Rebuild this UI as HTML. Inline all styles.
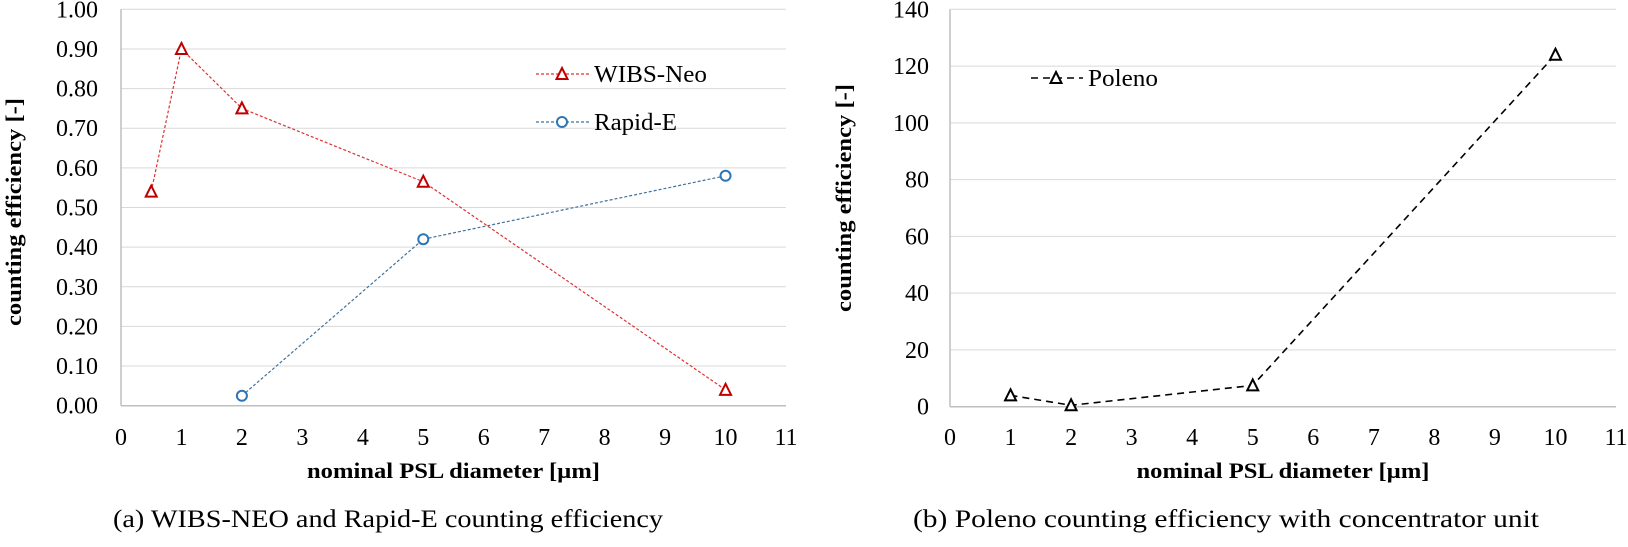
<!DOCTYPE html>
<html><head><meta charset="utf-8"><style>
html,body{margin:0;padding:0;background:#fff;}
svg text{font-family:"Liberation Serif",serif;fill:#000;}
</style></head><body>
<svg id="root" width="1628" height="542" viewBox="0 0 1628 542" xmlns="http://www.w3.org/2000/svg">
<g id="left"></g>
<g id="right"></g>
<text x="113" y="527" font-size="25" textLength="550" lengthAdjust="spacingAndGlyphs">(a) WIBS-NEO and Rapid-E counting efficiency</text>
<text x="913" y="527" font-size="25" textLength="626" lengthAdjust="spacingAndGlyphs">(b) Poleno counting efficiency with concentrator unit</text>
</svg>
<script>
const xTicks = [0,1,2,3,4,5,6,7,8,9,10,11];
const yTicksA = [0,0.1,0.2,0.3,0.4,0.5,0.6,0.7,0.8,0.9,1.0];
const yTicksB = [0,20,40,60,80,100,120,140];
const wibsX = [0.5,1,2,5,10];
const wibsY = [0.54,0.90,0.75,0.565,0.04];
const rapidX = [2,5,10];
const rapidY = [0.025,0.42,0.58];
const polenoX = [1,2,5,10];
const polenoY = [4,0.5,7.5,124];

const NS="http://www.w3.org/2000/svg";
function mk(parent,tag,attrs,text){const e=document.createElementNS(NS,tag);for(const k in attrs)e.setAttribute(k,attrs[k]);if(text!==undefined)e.textContent=text;parent.appendChild(e);return e;}

function axes(g,x0,x1,yTop,yBot,xMax,yMax,yTicks,fmt,labRight,titleX,titleY){
  const sx=v=>x0+(x1-x0)*v/xMax, sy=v=>yBot-(yBot-yTop)*v/yMax;
  yTicks.forEach(t=>{
    if(t>0){const l=mk(g,'line',{x1:x0,x2:x1,y1:sy(t),y2:sy(t),stroke:'#d9d9d9','stroke-width':1});
    
    }
    const tx=mk(g,'text',{x:labRight,y:sy(t)+8,'font-size':24,'text-anchor':'end'},fmt(t));
    
    
  });
  xTicks.forEach(t=>{
    const tx=mk(g,'text',{x:sx(t),y:445,'font-size':24,'text-anchor':'middle'},String(t));
    
    
  });
  const ya=mk(g,'line',{x1:x0,x2:x0,y1:yTop,y2:yBot,stroke:'#bfbfbf','stroke-width':1.5});
  
  
  const xa=mk(g,'line',{x1:x0,x2:x1,y1:yBot,y2:yBot,stroke:'#bfbfbf','stroke-width':1.5});
  
  
  const xt=mk(g,'text',{x:(x0+x1)/2+(titleX||0),y:478,'font-size':22,'font-weight':'bold','text-anchor':'middle',textLength:293,lengthAdjust:'spacingAndGlyphs'},'nominal PSL diameter [µm]');
  
  
  const yt=mk(g,'text',{transform:`translate(${titleY[0]+8},${titleY[1]}) rotate(-90)`,'font-size':22,'font-weight':'bold','text-anchor':'middle',textLength:228,lengthAdjust:'spacingAndGlyphs'},'counting efficiency  [-]');
  
  
  return {sx,sy};
}
function tri(g,x,y,c,w){return mk(g,'path',{d:`M${x},${y-6} L${x+5.5},${y+5} L${x-5.5},${y+5} Z`,fill:'#fff',stroke:c,'stroke-width':w||2});}
function series(g,X,Y,s,c,mc,dash,w,marker,name){
  const pts=X.map((x,i)=>s.sx(x)+','+s.sy(Y[i])).join(' ');
  const pl=mk(g,'polyline',{points:pts,fill:'none',stroke:c,'stroke-width':w,'stroke-dasharray':dash});
  
  
  X.forEach((x,i)=>{
    const m=marker==='tri'?tri(g,s.sx(x),s.sy(Y[i]),mc):mk(g,'circle',{cx:s.sx(x),cy:s.sy(Y[i]),r:5,fill:'#fff',stroke:mc,'stroke-width':2});
    
    
  });
}
const L=document.getElementById('left'), R=document.getElementById('right');
const sa=axes(L,121,786,9.3,405.7,11,1,yTicksA,t=>t.toFixed(2),98,0,[13,212]);
series(L,wibsX,wibsY,sa,'#e0302f','#c00000','3,2',1.2,'tri','wibs-neo');
series(L,rapidX,rapidY,sa,'#41719c','#2e75b6','3,2',1.2,'circ','rapid-e');
const sb=axes(R,950,1616,9.3,406.7,11,140,yTicksB,t=>String(t),929,0,[843,198]);
series(R,polenoX,polenoY,sb,'#000','#000','7,5',1.6,'tri','poleno');
// legends
const lg1=mk(L,'g',{});


mk(lg1,'line',{x1:536,x2:589,y1:74,y2:74,stroke:'#e0302f','stroke-width':1.2,'stroke-dasharray':'3,2'});
tri(lg1,562,74,'#c00000');
mk(lg1,'text',{x:594,y:82,'font-size':24,textLength:113,lengthAdjust:'spacingAndGlyphs'},'WIBS-Neo');
const lg2=mk(L,'g',{});


mk(lg2,'line',{x1:536,x2:589,y1:122,y2:122,stroke:'#41719c','stroke-width':1.2,'stroke-dasharray':'3,2'});
mk(lg2,'circle',{cx:562,cy:122,r:5,fill:'#fff',stroke:'#2e75b6','stroke-width':2});
mk(lg2,'text',{x:594,y:130,'font-size':24,textLength:83,lengthAdjust:'spacingAndGlyphs'},'Rapid-E');
const lg3=mk(R,'g',{});


mk(lg3,'line',{x1:1031,x2:1083,y1:78,y2:78,stroke:'#000','stroke-width':1.6,'stroke-dasharray':'7,5'});
tri(lg3,1056,78,'#000');
mk(lg3,'text',{x:1088,y:86,'font-size':24,textLength:70,lengthAdjust:'spacingAndGlyphs'},'Poleno');
</script>
</body></html>
